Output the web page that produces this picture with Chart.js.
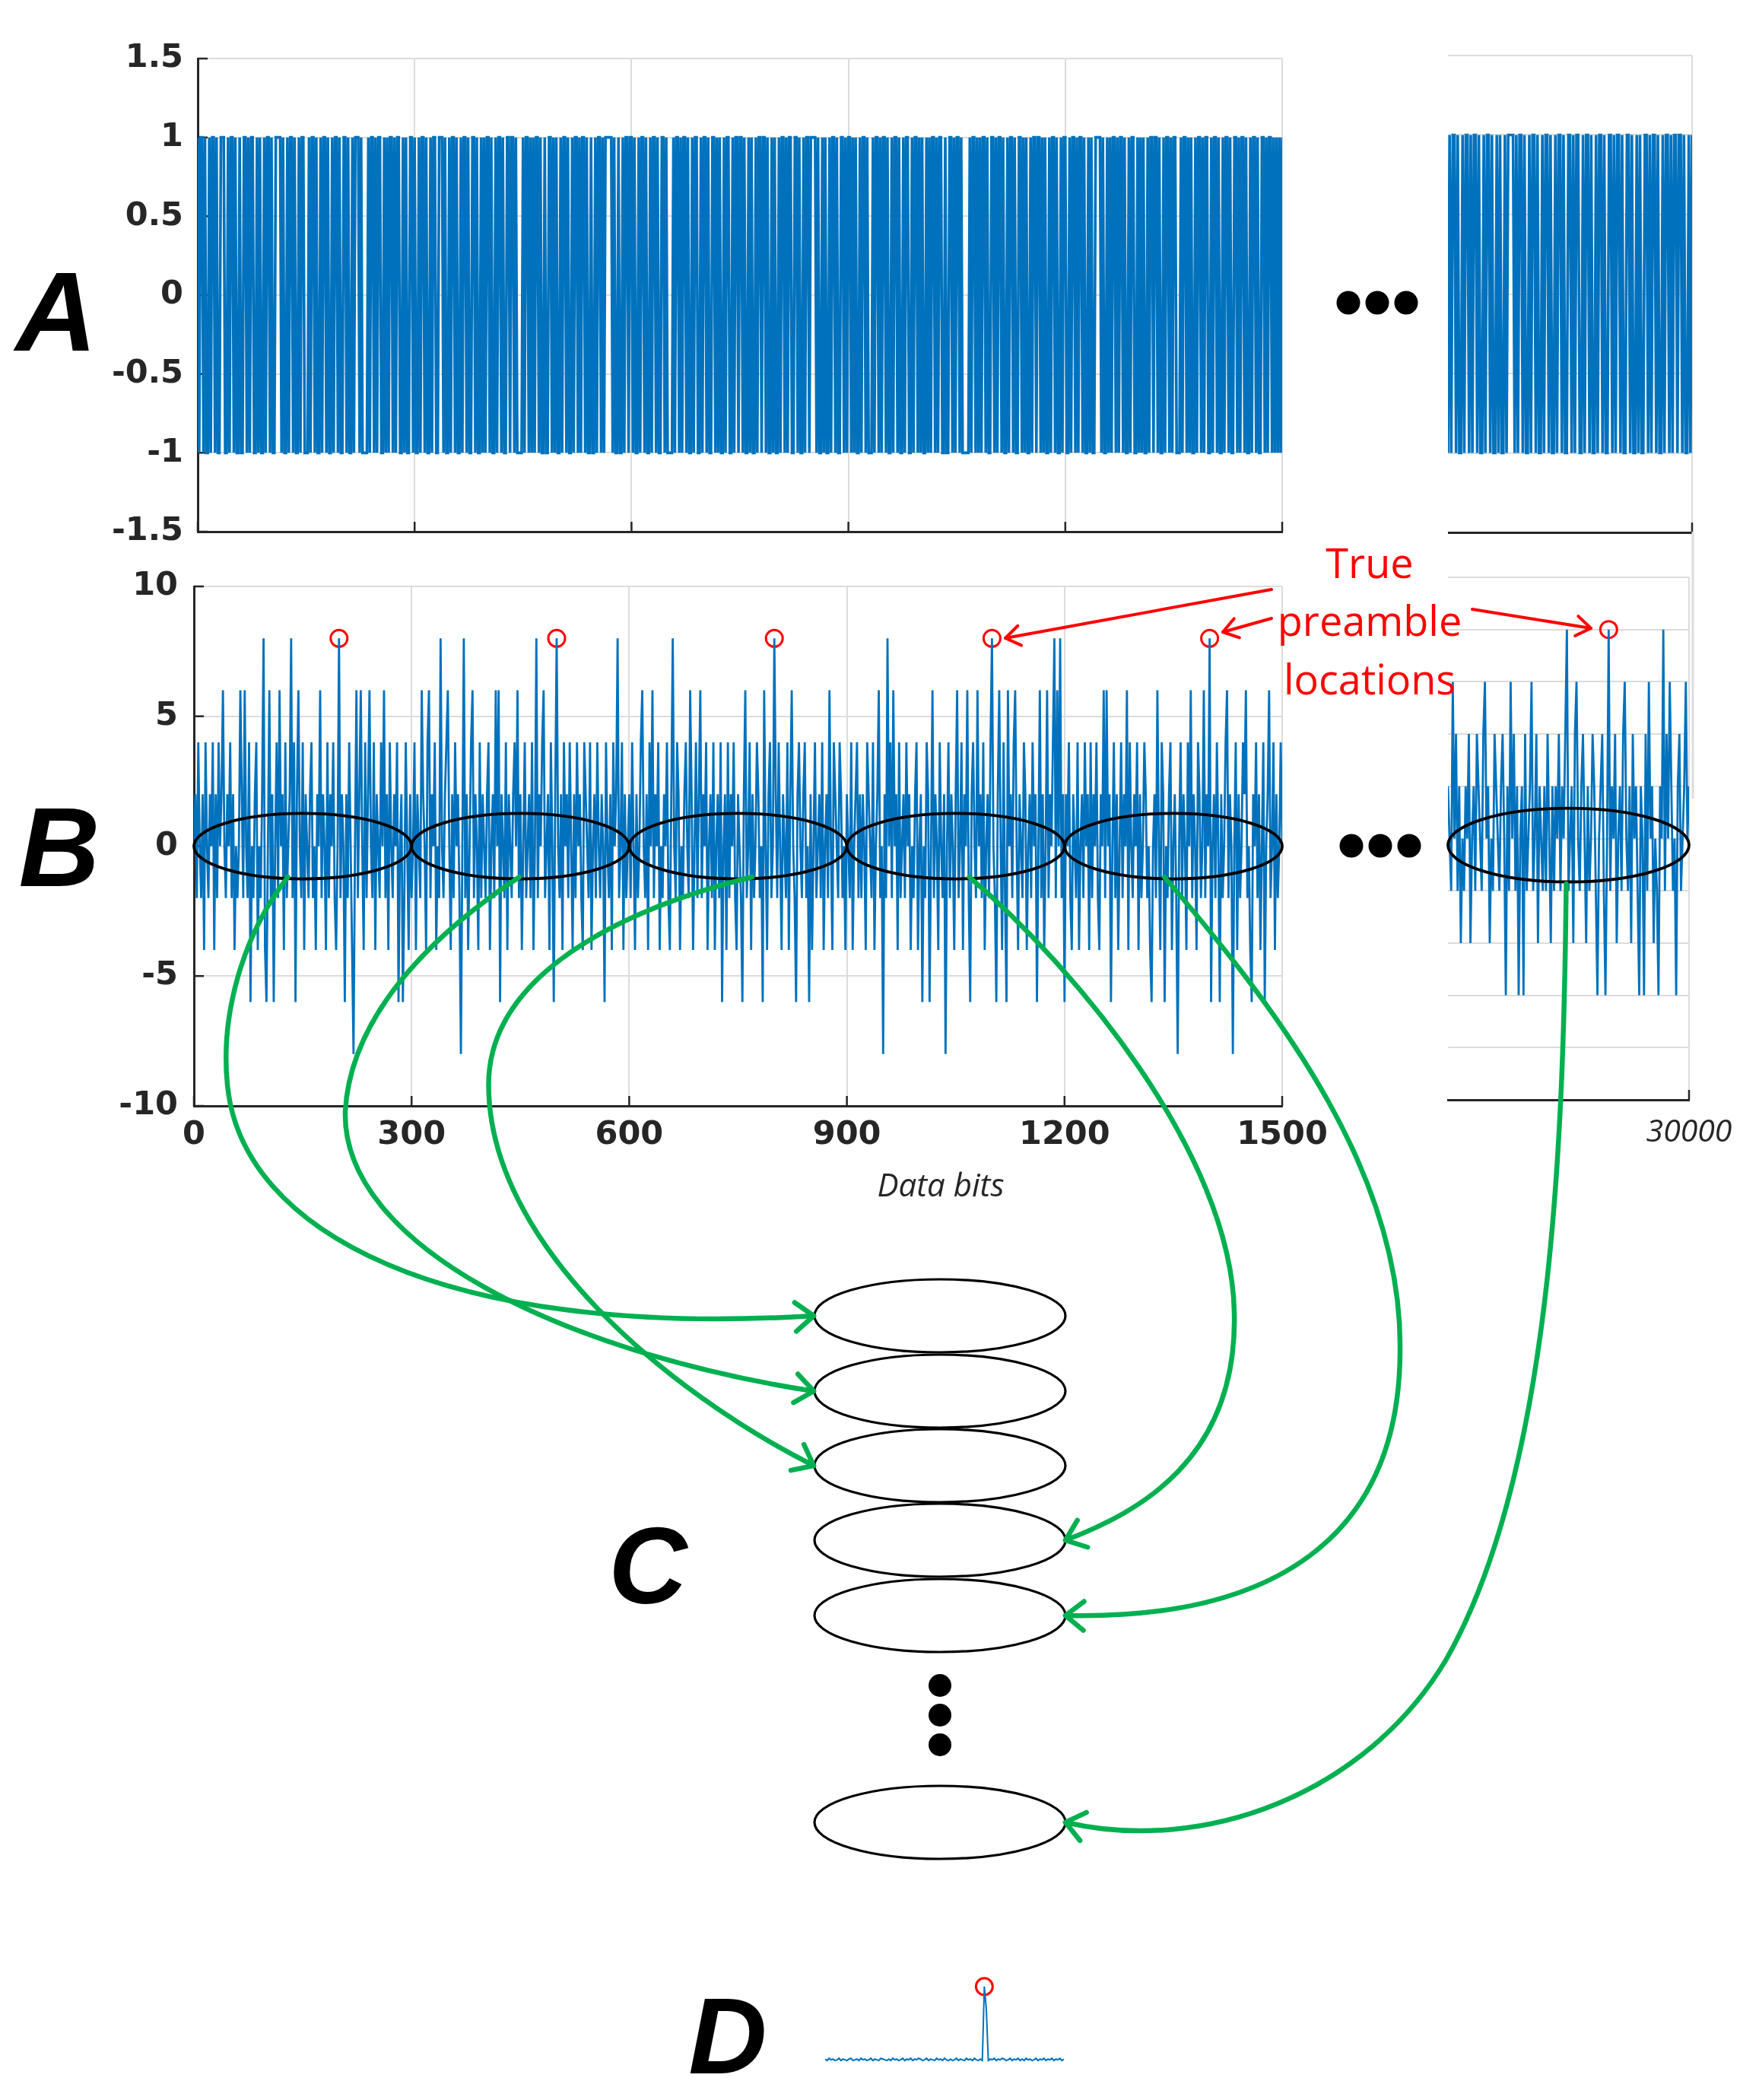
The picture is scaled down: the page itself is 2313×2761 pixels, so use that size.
<!DOCTYPE html>
<html>
<head>
<meta charset="utf-8">
<title>Preamble search</title>
<script src="https://cdn.jsdelivr.net/npm/chart.js@4.4.0/dist/chart.umd.min.js"></script>
<style>
  html, body { margin: 0; padding: 0; background: #fff; }
  #page { position: relative; width: 2313px; height: 2761px; overflow: hidden; }
  .panel { position: absolute; line-height: 0; }
  #overlay { position: absolute; left: 0; top: 0; pointer-events: none; }
</style>
</head>
<body>
<div id="page">
  <div id="charts"></div>
  <svg id="overlay" width="2313" height="2761" viewBox="0 0 2313 2761">
    <defs>
      <marker id="greenHead" markerUnits="userSpaceOnUse" markerWidth="44" markerHeight="44"
              refX="28" refY="21" orient="auto" overflow="visible">
        <path d="M 4 2 L 28 21 L 4 40" fill="none" stroke="#00B050" stroke-width="6.5" stroke-linecap="round" stroke-linejoin="round"/>
      </marker>
      <marker id="redHead" markerUnits="userSpaceOnUse" markerWidth="32" markerHeight="32"
              refX="23" refY="16" orient="auto" overflow="visible">
        <path d="M 4 3 L 23 16 L 4 29" fill="none" stroke="#FF0000" stroke-width="4" stroke-linecap="round" stroke-linejoin="round"/>
      </marker>
    </defs>

    <!-- panel labels -->
    <g font-family="Liberation Sans" font-weight="bold" font-style="italic" fill="#000" text-anchor="middle">
      <text x="74" y="461" font-size="148">A</text>
      <text x="78" y="1165" font-size="148">B</text>
      <text x="852" y="2108" font-size="143">C</text>
      <text x="957" y="2726" font-size="143">D</text>
    </g>

    <!-- continuation dots -->
    <g fill="#000">
      <circle cx="1773" cy="398" r="15.5"/><circle cx="1811" cy="398" r="15.5"/><circle cx="1849" cy="398" r="15.5"/>
      <circle cx="1777" cy="1112" r="15.5"/><circle cx="1815" cy="1112" r="15.5"/><circle cx="1853" cy="1112" r="15.5"/>
      <circle cx="1236" cy="2216" r="15"/><circle cx="1236" cy="2255" r="15"/><circle cx="1236" cy="2294" r="15"/>
    </g>

    <line x1="2226" y1="699" x2="2226" y2="1050" stroke="#dcdcdc" stroke-width="3"/>

    <!-- stacked windows -->
    <g fill="none" stroke="#000" stroke-width="3.2">
      <ellipse cx="1236" cy="1730" rx="165" ry="48"/>
      <ellipse cx="1236" cy="1829" rx="165" ry="48"/>
      <ellipse cx="1236" cy="1927" rx="165" ry="48"/>
      <ellipse cx="1236" cy="2025" rx="165" ry="48"/>
      <ellipse cx="1236" cy="2124" rx="165" ry="48"/>
      <ellipse cx="1236" cy="2396" rx="165" ry="48"/>
    </g>

    <!-- green arrows -->
    <g fill="none" stroke="#00B050" stroke-width="6.5" stroke-linecap="round" marker-end="url(#greenHead)">
      <path d="M 378.5 1153 C 317 1232, 290 1338, 299 1426 C 317 1619, 581 1760, 1070 1730"/>
      <path d="M 683 1153 C 563 1232, 461 1338, 454 1461 C 449 1637, 739 1778, 1070 1829"/>
      <path d="M 989 1153 C 810 1197, 642.5 1285, 642.5 1426 C 642.5 1637, 880 1831, 1070 1927"/>
      <path d="M 1274.5 1153 C 1408 1267, 1619 1514, 1623 1725 C 1628 1919, 1496 1989, 1401 2025"/>
      <path d="M 1531 1153 C 1690 1338, 1845 1549, 1841 1778 C 1839.5 2024, 1672 2130, 1401 2124"/>
      <path d="M 2059.5 1162 C 2056 1496, 2042 1936, 1901 2183 C 1795.5 2359, 1584 2438, 1401 2396"/>
    </g>

    <!-- red callout -->
    <g fill="none" stroke="#FF0000" stroke-width="4" stroke-linecap="round" marker-end="url(#redHead)">
      <path d="M 1672 775 L 1322 839"/>
      <path d="M 1672 813 L 1608 831"/>
      <path d="M 1936 801 L 2092 826"/>
    </g>
    <g font-family="Open Sans" font-size="54" fill="#FF0000" text-anchor="middle">
      <text x="1801" y="760">True</text>
      <text x="1801" y="836">preamble</text>
      <text x="1801" y="913">locations</text>
    </g>

    <text x="1237" y="1573" font-family="Open Sans" font-style="italic" font-size="42" fill="#262626" text-anchor="middle">Data bits</text>
  </svg>
</div>

<script>
// transmitted bits, first 1500 bits (one entry every 2 bits): 1 -> +1, 0 -> -1
const aBits = `
1011010010 1101001110 0101101001 0011010110 0101001011
0100111101 0010110100 1011000101 1010010110 1001011010
0110100101 1101000010 1101011001 0101101011 0010100110
1001011010 0101100111 0100101101 0010110100 1101001010
1101001011 0100110110 1000010110 1010110100 1001101010
0101101001 0110101101 0010010110 1011111010 0100101101
1010010110 1001011010 0110100001 0110101101 0010110010
1101001101 0100101100 1011011010 0101001011 0110100101
0010110101 1001101001 0110111101 0010100101 1010011010
1101010010 1101000101 1010110100 1011010010 1100101101
0100101011 0101100100 1101011010 0000101101 0101101001
1010110100 1011010011 0101001011 0110101001 0110100101
1001011010 1101001010 0111101001 0101101011 0100101100
1010100101 1011010010 1101011000 1011010100 1011010110
0101101001 0110100110 1011010010 1101001101 0110101010
1`.replace(/\s/g, '');

// last bits, 29700..30000
const aBitsEnd = `
0101101001 0110101101 0010110100 1010010111 1010110100
1011010010 1101001011 0100110101 1001011010 0101101001
1010110100 1101001010 0110101101 0010110101 1011010010
1`.replace(/\s/g, '');

// correlator output levels, digit d -> 2*(d-4)  (-8 .. 8)
const bLevels = `
4536435264 3546253645 7435463524 3475374361 4356243582
1473514637 4526345836 1574362543 5634254735 4263546324
8354153642 0473574263 5743625436 4735264354 6145136425
3462543754 2673546243 8435674253 6453048352 4673542635
4356245374 7154362543 5647352463 4536248354 6734526415
8435264536 4253645326 5436245364 3541643526 4583462534
5364253467 4352647354 6243546325 8436524356 4375246357
3546245362 4536145263 5463254315 7346253465 3417425634
8536425436 2574315643 5634152463 4536245374 2654365342
5436245635 3542654362 4573405384 6374526345 3645243562
4514365147 3542643504 6354257346 2547315643 7453624536
8431574263 1745367425 4365245364 5147352473 5468374835
1546325436 2453645263 5463254737 4514635246 3547264354
6253465342 1453742651 4356245304 6354264735 4265347354
8145364153 4673540462 5346573421 5463524614 5734625346
4`.replace(/\s/g, '');

const bLevelsEnd = `
5437463524 3546245365 4367452436 5435641537 4635145163
4573462543 5364253546 3546834526 7435642534 6531456314
8354624536 7435264531 5416374524 3154836475 3415634574
5`.replace(/\s/g, '');

const STEP = 2;
const END_START = 29700;
const preambleX = [200, 500, 800, 1100, 1400];
const preambleXEnd = [29900];
const windowStarts = [0, 300, 600, 900, 1200];
const windowStartsEnd = [29700];
const WINDOW = 300;

const xTicks = [0, 300, 600, 900, 1200, 1500];
const xTicksEnd = [30000];
const yTicksA = [-1.5, -1, -0.5, 0, 0.5, 1, 1.5];
const yTicksB = [-10, -5, 0, 5, 10];
const yTicksBEnd = [-10, -8, -6, -4, -2, 0, 2, 4, 6, 8, 10];

// final detection: small residue (hundredths) with one peak
const dNoise = `
2031201302 1023012031 2013021032 1020312013 0213021320 1302103120
3102013021 0312031020 1302130213 2013021302 0312013021 3021302130
2`.replace(/\s/g, '');
const dPeaks = [[80, 1], [81, 0.7]];

const BLUE = '#0072BD', RED = '#FF0000', GRID = '#dcdcdc', AXIS = '#262626';
const TICK_FONT = { family: 'DejaVu Sans', weight: 'bold', size: 43 };
const ITALIC_FONT = { family: 'Open Sans', style: 'italic', size: 41 };

const toBit = (c, i, x0) => ({ x: x0 + i * STEP, y: c === '1' ? 1 : -1 });
const toLevel = (c, i, x0) => ({ x: x0 + i * STEP, y: (Number(c) - 4) * 2 });

const aPoints = aBits.split('').map((c, i) => toBit(c, i, 0));
const aPointsEnd = aBitsEnd.split('').map((c, i) => toBit(c, i, END_START));
const bPoints = bLevels.split('').map((c, i) => toLevel(c, i, 0));
const bPointsEnd = bLevelsEnd.split('').map((c, i) => toLevel(c, i, END_START));
const valueAt = (pts, x) => pts.find(p => p.x === x).y;
const markPts = preambleX.map(x => ({ x, y: valueAt(bPoints, x) }));
const markPtsEnd = preambleXEnd.map(x => ({ x, y: valueAt(bPointsEnd, x) }));
const dPoints = dNoise.split('').map((c, i) => ({ x: i, y: Number(c) / 100 }));
dPeaks.forEach(([i, v]) => { dPoints[i].y = v; });

// short dark ticks drawn inside the axes, matlab style
const inwardTicks = {
  id: 'inwardTicks',
  beforeDatasetsDraw(chart, args, o) {
    if (!o.x && !o.y) return;
    const { ctx, chartArea: ca, scales: { x, y } } = chart;
    ctx.save();
    ctx.strokeStyle = AXIS;
    ctx.lineWidth = 2.5;
    ctx.beginPath();
    if (o.x) x.ticks.forEach(t => {
      const px = x.getPixelForValue(t.value);
      ctx.moveTo(px, ca.bottom); ctx.lineTo(px, ca.bottom - 13);
    });
    if (o.y) y.ticks.forEach(t => {
      const py = y.getPixelForValue(t.value);
      ctx.moveTo(ca.left, py); ctx.lineTo(ca.left + 13, py);
    });
    ctx.stroke();
    ctx.restore();
  }
};

// black rings round each search window
const windowRings = {
  id: 'windowRings',
  afterDatasetsDraw(chart, args, o) {
    if (!o.starts) return;
    const { ctx, scales: { x, y } } = chart;
    const mid = o.mid || 0;
    ctx.save();
    ctx.strokeStyle = '#000';
    ctx.lineWidth = 3.8;
    o.starts.forEach(s => {
      const x0 = x.getPixelForValue(s), x1 = x.getPixelForValue(s + WINDOW);
      const cy = y.getPixelForValue(mid);
      const ry = Math.abs(y.getPixelForValue(mid + o.half) - cy);
      ctx.beginPath();
      ctx.ellipse((x0 + x1) / 2, cy, (x1 - x0) / 2, ry, 0, 0, Math.PI * 2);
      ctx.stroke();
    });
    ctx.restore();
  }
};
Chart.register(inwardTicks, windowRings);

function place(area, yW, xH, pad) {
  const w = pad.l + yW + (area.r - area.l) + pad.r;
  const h = pad.t + (area.b - area.t) + xH + pad.b;
  const box = document.createElement('div');
  box.className = 'panel';
  box.style.left = (area.l - yW - pad.l) + 'px';
  box.style.top = (area.t - pad.t) + 'px';
  const cv = document.createElement('canvas');
  cv.width = w; cv.height = h;
  cv.style.width = w + 'px'; cv.style.height = h + 'px';
  box.appendChild(cv);
  document.getElementById('charts').appendChild(box);
  return cv;
}

function axis(min, max, ticks, size, o = {}) {
  return {
    type: 'linear', min, max,
    afterBuildTicks: s => { s.ticks = ticks.map(v => ({ value: v })); },
    afterFit: s => { if (o.horiz) s.height = size; else s.width = size; },
    grid: { display: o.grid !== false, color: GRID, lineWidth: 2, drawTicks: false },
    border: { display: o.border !== false, color: AXIS, width: 3 },
    ticks: {
      display: !!o.labels, font: o.font || TICK_FONT, color: AXIS, padding: o.pad || 0,
      maxRotation: 0, autoSkip: false, callback: v => String(v)
    }
  };
}

function makeChart(area, yW, xH, pad, datasets, scales, extra) {
  return new Chart(place(area, yW, xH, pad), {
    type: 'line',
    data: { datasets },
    options: {
      responsive: false, animation: false, devicePixelRatio: 1, events: [],
      layout: { padding: { left: pad.l, top: pad.t, right: pad.r, bottom: pad.b } },
      scales,
      plugins: Object.assign({ legend: { display: false }, tooltip: { enabled: false } }, extra)
    }
  });
}

const line = (data, w) => ({ data, borderColor: BLUE, borderWidth: w, pointRadius: 0, tension: 0 });
const marks = (data, r) => ({
  data, showLine: false, pointStyle: 'circle', pointRadius: r, pointBorderWidth: 3,
  pointBorderColor: RED, pointBackgroundColor: 'rgba(0,0,0,0)', borderColor: RED, clip: false
});

// A: transmitted bits
makeChart({ l: 260, t: 77, r: 1686, b: 699 }, 180, 12, { l: 0, t: 55, r: 40, b: 40 },
  [line(aPoints, 3.6)],
  {
    x: axis(0, 1500, xTicks, 12, { horiz: true }),
    y: axis(-1.5, 1.5, yTicksA, 180, { labels: true, pad: 19 })
  },
  { inwardTicks: { x: true, y: true } });

makeChart({ l: 1904, t: 73, r: 2225, b: 700 }, 0, 12, { l: 0, t: 20, r: 20, b: 14 },
  [line(aPointsEnd, 3.6)],
  {
    x: axis(END_START, 30000, xTicksEnd, 12, { horiz: true }),
    y: axis(-1.5, 1.5, yTicksA, 0, { border: false })
  },
  { inwardTicks: { x: true } });

// B: correlator output
makeChart({ l: 255, t: 771, r: 1686, b: 1454 }, 150, 80, { l: 0, t: 55, r: 95, b: 0 },
  [line(bPoints, 2.8), marks(markPts, 11)],
  {
    x: axis(0, 1500, xTicks, 80, { horiz: true, labels: true, pad: 13 }),
    y: axis(-10, 10, yTicksB, 150, { labels: true, pad: 21 })
  },
  { inwardTicks: { x: true, y: true }, windowRings: { starts: windowStarts, half: 1.26 } });

makeChart({ l: 1890, t: 759, r: 2221, b: 1446 }, 0, 80, { l: 0, t: 20, r: 95, b: 0 },
  [line(bPointsEnd, 2.8), marks(markPtsEnd, 11)],
  {
    x: axis(END_START, 30000, xTicksEnd, 80, { horiz: true, labels: true, pad: 19, font: ITALIC_FONT }),
    y: axis(-10, 10, yTicksBEnd, 0, { border: false })
  },
  { inwardTicks: { x: true }, windowRings: { starts: windowStartsEnd, half: 1.41, mid: -0.25 } });

// D: combined detection
makeChart({ l: 1081, t: 2607, r: 1403, b: 2718 }, 0, 0, { l: 10, t: 25, r: 10, b: 10 },
  [line(dPoints, 2), marks([{ x: dPeaks[0][0], y: dPeaks[0][1] }], 11)],
  {
    x: { type: 'linear', min: 0, max: dPoints.length - 1, display: false },
    y: { type: 'linear', min: -0.05, max: 1.05, display: false }
  },
  {});
</script>
</body>
</html>
